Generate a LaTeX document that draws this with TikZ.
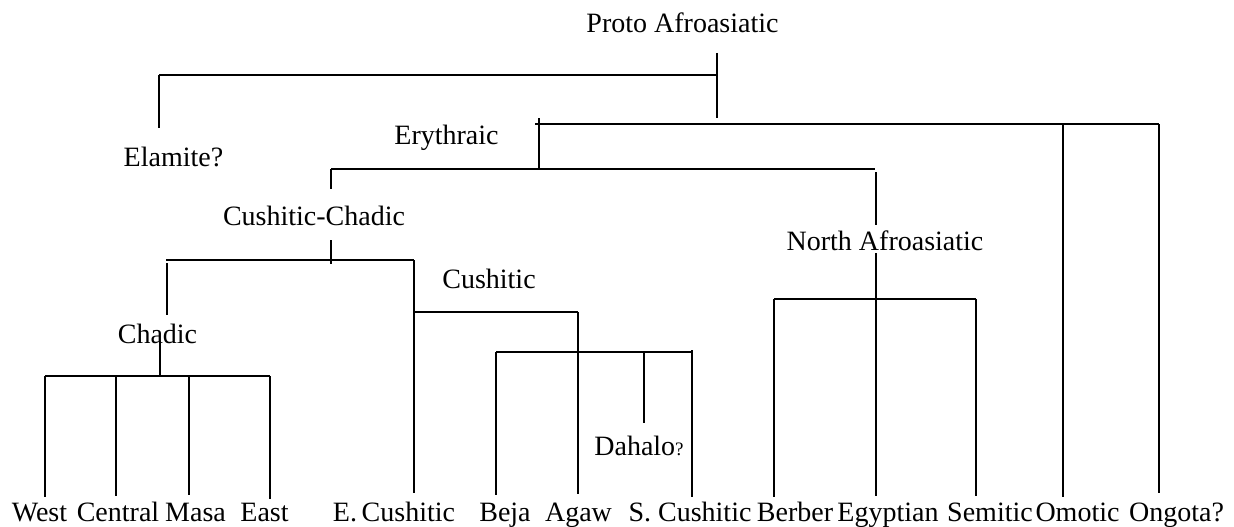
\documentclass[tikz,border=0pt]{standalone}
\usepackage{fontspec}
\setmainfont{Liberation Serif}
\begin{document}
\begin{tikzpicture}[x=1pt,y=-1pt,
  lab/.style={inner sep=0pt, anchor=base, font=\fontsize{28}{30}\selectfont},
  br/.style={line width=1.8pt, line cap=butt}]
\useasboundingbox (0,0) rectangle (1234,527);
% labels
\node[lab] (proto) at (682.5,33) {Proto Afroasiatic};
\node[lab] (elam) at (173.5,166) {Elamite?};
\node[lab] (eryth) at (446.5,144) {Erythraic};
\node[lab] (cc) at (314,225) {Cushitic-Chadic};
\node[lab] (na) at (885,250) {North Afroasiatic};
\node[lab] (chadic) at (157.5,343) {Chadic};
\node[lab] (cush) at (489,288) {Cushitic};
\node[lab] (dahalo) at (639,455) {Dahalo{\fontsize{19}{20}\selectfont ?}};
\node[lab] (west) at (39.5,521) {West};
\node[lab] (central) at (118,521) {Central};
\node[lab] (masa) at (195.5,521) {Masa};
\node[lab] (east) at (264.5,521) {East};
\node[lab] (ecush) at (394,521) {E.\,Cushitic};
\node[lab] (beja) at (505,521) {Beja};
\node[lab] (agaw) at (578.5,521) {Agaw};
\node[lab] (scush) at (690,521) {S. Cushitic};
\node[lab] (berber) at (795,521) {Berber};
\node[lab] (egypt) at (888,521) {Egyptian};
\node[lab] (semitic) at (990,521) {Semitic};
\node[lab] (omotic) at (1077.5,521) {Omotic};
\node[lab] (ongota) at (1176.5,521) {Ongota?};
% junction coordinates
\coordinate (p1) at (717,53);
\coordinate (p2) at (717,118);
\coordinate (pb) at (717,75);
\coordinate (el0) at (159,75);
\coordinate (el1) at (159,128);
\coordinate (e0) at (535,124);
\coordinate (e1) at (1159,124);
\coordinate (et0) at (539,118);
\coordinate (et1) at (539,168);
\coordinate (om0) at (1063,123);
\coordinate (om1) at (1063,497);
\coordinate (on1) at (1159,493);
\coordinate (r0) at (331,169);
\coordinate (r1) at (875,169);
\coordinate (ccup) at (331,189);
\coordinate (na0) at (876,172);
\coordinate (na1) at (876,225);
\coordinate (cc0) at (331,240);
\coordinate (cc1) at (331,264);
\coordinate (c0) at (166,260);
\coordinate (c1) at (414,260);
\coordinate (ch0) at (167,263);
\coordinate (ch1) at (167,315);
\coordinate (ec1) at (414,493);
\coordinate (cd0) at (160,341);
\coordinate (cd1) at (160,376);
\coordinate (w0) at (45,376);
\coordinate (w1) at (45,497);
\coordinate (ce0) at (116,376);
\coordinate (ce1) at (116,496);
\coordinate (m0) at (189,376);
\coordinate (m1) at (189,495);
\coordinate (ea0) at (270,376);
\coordinate (ea1) at (270,499);
\coordinate (cu0) at (414,312);
\coordinate (cu1) at (578,312);
\coordinate (ag1) at (578,494);
\coordinate (b0) at (496,352);
\coordinate (b1) at (692,352);
\coordinate (bj1) at (496,495);
\coordinate (da0) at (644,352);
\coordinate (da1) at (644,423);
\coordinate (sc0) at (692,350);
\coordinate (sc1) at (692,497);
\coordinate (nb0) at (876,253);
\coordinate (nb1) at (876,496);
\coordinate (nh0) at (774,299);
\coordinate (nh1) at (976,299);
\coordinate (be1) at (774,497);
\coordinate (se1) at (976,496);
% branches
\draw[br] (p1) -- (p2);
\draw[br] (el0) -- (pb);
\draw[br] (el0) -- (el1);
\draw[br] (e0) -- (e1);
\draw[br] (et0) -- (et1);
\draw[br] (om0) -- (om1);
\draw[br] (e1) -- (on1);
\draw[br] (r0) -- (r1);
\draw[br] (r0) -- (ccup);
\draw[br] (na0) -- (na1);
\draw[br] (cc0) -- (cc1);
\draw[br] (c0) -- (c1);
\draw[br] (ch0) -- (ch1);
\draw[br] (c1) -- (ec1);
\draw[br] (cd0) -- (cd1);
\draw[br] (w0) -- (ea0);
\draw[br] (w0) -- (w1);
\draw[br] (ce0) -- (ce1);
\draw[br] (m0) -- (m1);
\draw[br] (ea0) -- (ea1);
\draw[br] (cu0) -- (cu1);
\draw[br] (cu1) -- (ag1);
\draw[br] (b0) -- (b1);
\draw[br] (b0) -- (bj1);
\draw[br] (da0) -- (da1);
\draw[br] (sc0) -- (sc1);
\draw[br] (nb0) -- (nb1);
\draw[br] (nh0) -- (nh1);
\draw[br] (nh0) -- (be1);
\draw[br] (nh1) -- (se1);
\end{tikzpicture}
\end{document}
